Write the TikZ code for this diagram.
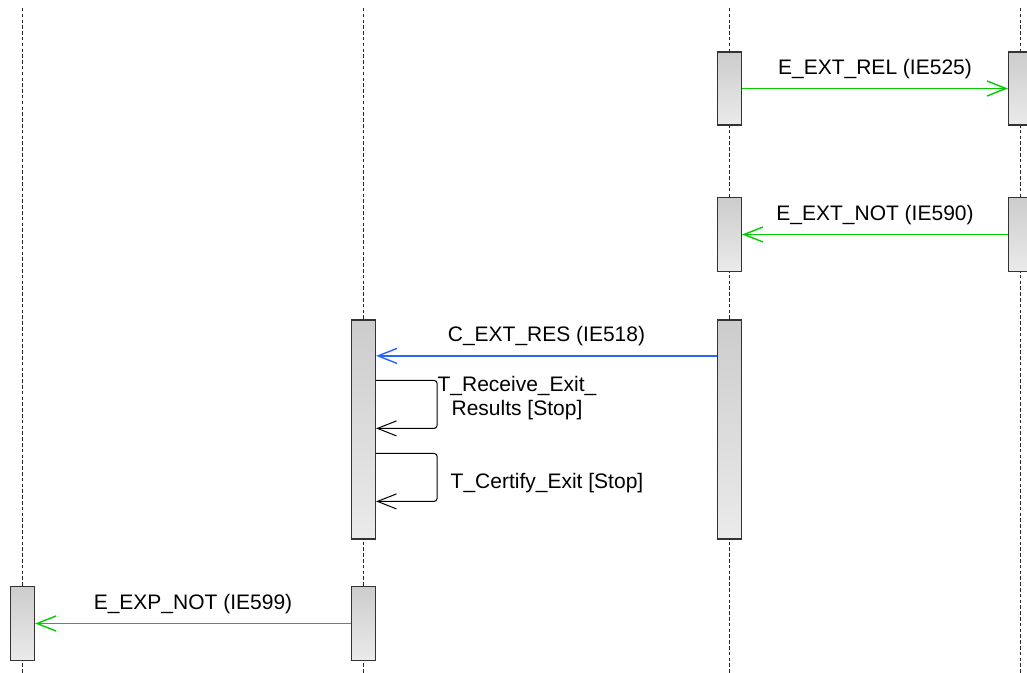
\documentclass[tikz,border=0pt]{standalone}
\usepackage{fontspec}
\setmainfont{Liberation Sans}
\usetikzlibrary{arrows.meta}
\definecolor{msggreen}{RGB}{0,204,0}
\definecolor{msgblue}{RGB}{40,100,255}
\begin{document}
\begin{tikzpicture}[x=1bp,y=-1bp,
  life/.style={draw=black!85, line width=1.2bp, dash pattern=on 3.5bp off 2.3bp},
  act/.style={draw=black!80, line width=1.2bp, top color=black!20, bottom color=black!8, minimum width=24bp, inner sep=0pt},
  msg/.style={line width=1.7bp, -{Straight Barb[length=19bp,width=15bp,line width=1.4bp]}},
  self/.style={black, line width=1bp, rounded corners=3bp, -{Straight Barb[length=19bp,width=15bp]}},
  lbl/.style={font=\fontsize{21bp}{24.7bp}\selectfont, inner sep=0pt, anchor=base, text=black}]
\useasboundingbox (0,0) rectangle (1027,673);
% lifelines
\coordinate (top0) at (22.5,8);
\coordinate (bot0) at (22.5,673);
\coordinate (top1) at (363.5,8);
\coordinate (bot1) at (363.5,673);
\coordinate (top2) at (729.5,8);
\coordinate (bot2) at (729.5,673);
\coordinate (top3) at (1020.5,8);
\coordinate (bot3) at (1020.5,673);
\draw[life](top0) -- (bot0);
\draw[life](top1) -- (bot1);
\draw[life](top2) -- (bot2);
\draw[life](top3) -- (bot3);
% activations
\node[act, minimum height=73bp] (act2a) at (729.5,88.5){};
\node[act, minimum height=73bp] (act3a) at (1020.5,88.5){};
\node[act, minimum height=74bp] (act2b) at (729.5,234.5){};
\node[act, minimum height=74bp] (act3b) at (1020.5,234.5){};
\node[act, minimum height=219bp] (act2c) at (729.5,429.5){};
\node[act, minimum height=219bp] (act1c) at (363.5,429.5){};
\node[act, minimum height=74bp] (act1d) at (363.5,623.5){};
\node[act, minimum height=74bp] (act0d) at (22.5,623.5){};
% messages
\draw[msg, msggreen](act2a) -- node[lbl, yshift=14bp]{E\_EXT\_REL (IE525)} (act3a);
\draw[msg, msggreen](act3b) -- node[lbl, yshift=14bp]{E\_EXT\_NOT (IE590)} (act2b);
\coordinate (res2) at ([yshift=-36.5bp]act2c.north west);
\coordinate (res1) at ([yshift=-36.5bp]act1c.north east);
\draw[msg, msgblue](res2) -- node[lbl, yshift=14bp]{C\_EXT\_RES (IE518)} (res1);
\coordinate (rcv0) at ([yshift=-61bp]act1c.north east);
\coordinate (rcv1) at ([yshift=-109bp]act1c.north east);
\draw[self](rcv0) -- ++(61,0) |- (rcv1);
\node[lbl, align=center] (rcvtxt) at (517,415.7){T\_Receive\_Exit\_\\Results [Stop]};
\coordinate (crt0) at ([yshift=-134bp]act1c.north east);
\coordinate (crt1) at ([yshift=-182bp]act1c.north east);
\draw[self](crt0) -- ++(61,0) |- (crt1);
\node[lbl] (crttxt) at (547,488){T\_Certify\_Exit [Stop]};
\draw[msg, msggreen](act1d) -- node[lbl, yshift=14bp]{E\_EXP\_NOT (IE599)} (act0d);
\end{tikzpicture}
\end{document}
